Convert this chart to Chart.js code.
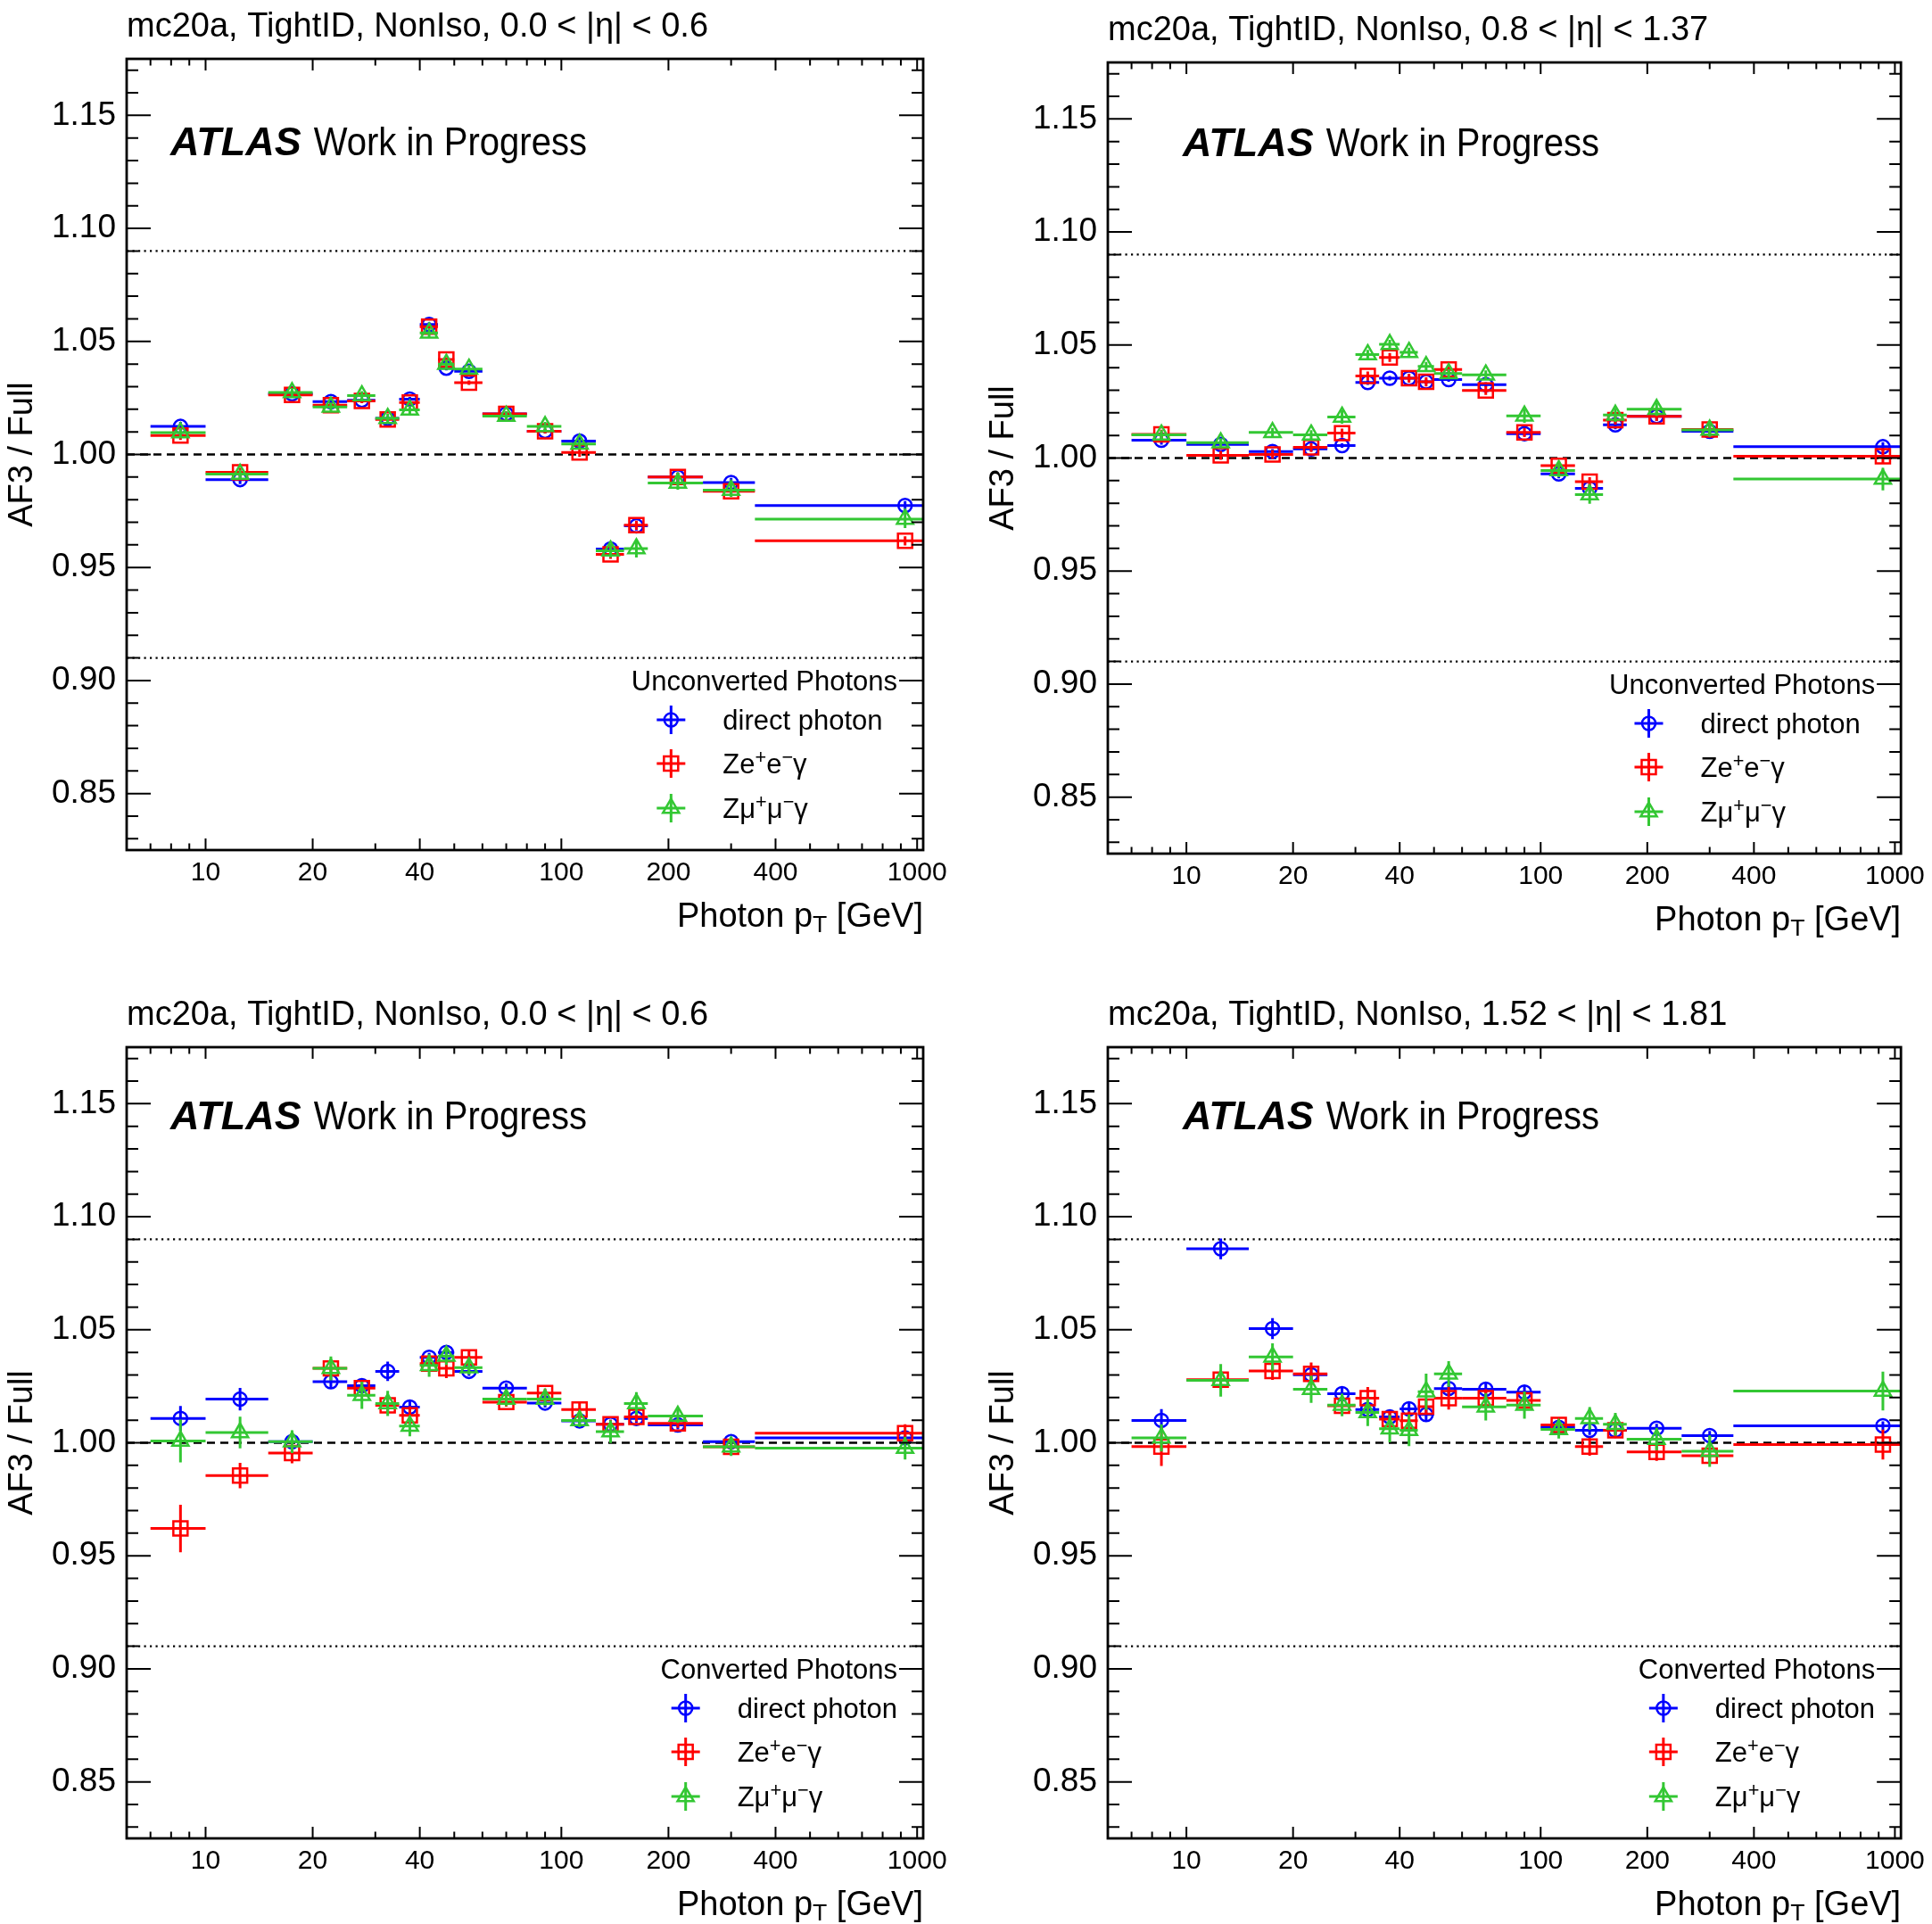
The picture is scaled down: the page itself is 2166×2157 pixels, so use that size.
<!DOCTYPE html>
<html>
<head>
<meta charset="utf-8">
<script src="https://cdn.jsdelivr.net/npm/chart.js@4.4.1/dist/chart.umd.min.js"></script>
<style>
  body { margin: 0; background: #fff; width: 2166px; height: 2157px; position: relative; overflow: hidden; }
  canvas { position: absolute; }
</style>
</head>
<body>
<canvas id="c1" width="1083" height="1078" style="left:0;top:0"></canvas>
<canvas id="c2" width="1066" height="1078" style="left:1100px;top:0"></canvas>
<canvas id="c3" width="1083" height="1057" style="left:0;top:1100px"></canvas>
<canvas id="c4" width="1066" height="1057" style="left:1100px;top:1100px"></canvas>
<script>
// bins in photon pT (GeV), points sit at the bin centre
var binEdges = [7,10,15,20,25,30,35,40,45,50,60,80,100,125,150,175,250,350,1500];
var xTickValues = [10,20,40,100,200,400,1000];
var xMinorTicks = [7,8,9,30,50,60,70,80,90,300,500,600,700,800,900];
var yTickValues = [0.85,0.90,0.95,1.00,1.05,1.10,1.15];
var refLines = [0.91,1.00,1.09];
var seriesLabels = ['direct photon','Ze^+e^−γ','Zμ^+μ^−γ'];

// top left: unconverted, 0.0 < |eta| < 0.6
var tlDirect = [1.0124,0.9889,1.0268,1.0234,1.0240,1.0160,1.0245,1.0575,1.0382,1.0368,1.0180,1.0103,1.0059,0.9582,0.9684,0.9900,0.9876,0.9774];
var tlZee    = [1.0084,0.9921,1.0263,1.0218,1.0237,1.0155,1.0230,1.0565,1.0420,1.0318,1.0180,1.0103,1.0009,0.9558,0.9687,0.9900,0.9837,0.9618];
var tlZmm    = [1.0097,0.9913,1.0274,1.0210,1.0260,1.0160,1.0197,1.0538,1.0400,1.0378,1.0170,1.0124,1.0046,0.9574,0.9584,0.9874,0.9842,0.9714];
var tlDirectErr = [0.002,0.002,0.001,0.001,0.001,0.001,0.001,0.001,0.001,0.001,0.001,0.001,0.002,0.002,0.002,0.002,0.002,0.002];
var tlZeeErr    = [0.002,0.002,0.001,0.001,0.001,0.001,0.001,0.001,0.001,0.001,0.001,0.001,0.002,0.002,0.002,0.002,0.002,0.002];
var tlZmmErr    = [0.002,0.002,0.002,0.002,0.002,0.002,0.002,0.002,0.002,0.002,0.002,0.002,0.002,0.003,0.004,0.003,0.003,0.004];

// top right: unconverted, 0.8 < |eta| < 1.37
var trDirect = [1.0079,1.0060,1.0029,1.0040,1.0055,1.0334,1.0353,1.0353,1.0337,1.0347,1.0325,1.0108,0.9930,0.9866,1.0147,1.0184,1.0118,1.0050];
var trZee    = [1.0105,1.0012,1.0016,1.0047,1.0110,1.0363,1.0445,1.0353,1.0337,1.0392,1.0299,1.0113,0.9966,0.9895,1.0168,1.0184,1.0126,1.0008];
var trZmm    = [1.0103,1.0068,1.0113,1.0103,1.0182,1.0458,1.0503,1.0468,1.0405,1.0374,1.0368,1.0186,0.9945,0.9838,1.0190,1.0216,1.0124,0.9907];
var trDirectErr = [0.002,0.002,0.001,0.001,0.001,0.001,0.001,0.001,0.001,0.001,0.001,0.001,0.002,0.002,0.002,0.002,0.002,0.002];
var trZeeErr    = [0.002,0.002,0.002,0.002,0.002,0.002,0.002,0.002,0.002,0.002,0.002,0.002,0.002,0.002,0.002,0.002,0.002,0.003];
var trZmmErr    = [0.002,0.002,0.002,0.002,0.003,0.002,0.002,0.002,0.002,0.002,0.002,0.003,0.003,0.004,0.003,0.003,0.003,0.005];

// bottom left: converted, 0.0 < |eta| < 0.6
var blDirect = [1.0108,1.0193,1.0005,1.0270,1.0253,1.0316,1.0158,1.0378,1.0400,1.0316,1.0242,1.0176,1.0097,1.0082,1.0108,1.0079,1.0005,1.0022];
var blZee    = [0.9621,0.9855,0.9955,1.0329,1.0242,1.0166,1.0121,1.0350,1.0329,1.0378,1.0180,1.0220,1.0147,1.0082,1.0114,1.0086,0.9982,1.0042];
var blZmm    = [1.0008,1.0045,1.0005,1.0329,1.0210,1.0174,1.0074,1.0342,1.0384,1.0332,1.0193,1.0193,1.0099,1.0049,1.0174,1.0118,0.9982,0.9976];
var blDirectErr = [0.0055,0.005,0.003,0.003,0.002,0.0043,0.003,0.002,0.002,0.002,0.002,0.002,0.002,0.002,0.002,0.002,0.002,0.002];
var blZeeErr    = [0.0105,0.0056,0.0046,0.003,0.002,0.003,0.004,0.003,0.0043,0.003,0.002,0.002,0.003,0.002,0.002,0.002,0.003,0.004];
var blZmmErr    = [0.0095,0.007,0.005,0.0053,0.006,0.0056,0.0045,0.005,0.004,0.003,0.003,0.003,0.003,0.005,0.005,0.003,0.004,0.005];

// bottom right: converted, 1.52 < |eta| < 1.81
var brDirect = [1.0099,1.0858,1.0505,1.0301,1.0217,1.0147,1.0114,1.0150,1.0125,1.0240,1.0237,1.0224,1.0068,1.0055,1.0055,1.0064,1.0032,1.0075];
var brZee    = [0.9983,1.0279,1.0318,1.0305,1.0164,1.0197,1.0105,1.0098,1.0160,1.0197,1.0197,1.0187,1.0079,0.9983,1.0055,0.9960,0.9943,0.9992];
var brZmm    = [1.0022,1.0276,1.0380,1.0237,1.0167,1.0134,1.0062,1.0055,1.0226,1.0305,1.0159,1.0167,1.0059,1.0108,1.0082,1.0016,0.9963,1.0229];
var brDirectErr = [0.005,0.0046,0.0046,0.003,0.003,0.003,0.003,0.003,0.003,0.003,0.003,0.003,0.002,0.002,0.002,0.002,0.002,0.002];
var brZeeErr    = [0.0086,0.004,0.004,0.005,0.003,0.005,0.003,0.004,0.003,0.005,0.004,0.004,0.003,0.004,0.003,0.004,0.003,0.0066];
var brZmmErr    = [0.006,0.0072,0.006,0.006,0.005,0.006,0.006,0.007,0.008,0.0056,0.006,0.006,0.004,0.005,0.005,0.005,0.007,0.0086];

var FONT = "'Liberation Sans', Arial, Helvetica, sans-serif";
var colors = ['#0000ff','#ff0000','#33c733'];
var styles = [
  {pointStyle:'circle', radius:7.5},
  {pointStyle:'rect', radius:11.3},
  {pointStyle:'triangle', radius:10.5}
];

var binCenters = binEdges.slice(0,-1).map(function(lo,i){ return (lo + binEdges[i+1]) / 2; });

// small rich text: ^x superscript, _x subscript
function parseRich(str) {
  var segs = [];
  for (var i = 0; i < str.length; i++) {
    var c = str[i];
    if ((c === '^' || c === '_') && i + 1 < str.length) { segs.push({t: str[i+1], k: c}); i++; }
    else if (segs.length && segs[segs.length-1].k === 'n') segs[segs.length-1].t += c;
    else segs.push({t: c, k: 'n'});
  }
  return segs;
}
function richWidth(ctx, str, size) {
  var w = 0;
  parseRich(str).forEach(function(s){
    ctx.font = (s.k === 'n' ? size : size*0.7) + 'px ' + FONT;
    w += ctx.measureText(s.t).width;
  });
  return w;
}
function drawRich(ctx, str, x, y, size, align) {
  var w = richWidth(ctx, str, size);
  var cx = align === 'right' ? x - w : (align === 'center' ? x - w/2 : x);
  ctx.textAlign = 'left';
  ctx.textBaseline = 'alphabetic';
  parseRich(str).forEach(function(s){
    var sz = s.k === 'n' ? size : size*0.7;
    ctx.font = sz + 'px ' + FONT;
    var dy = s.k === '^' ? -size*0.36 : (s.k === '_' ? size*0.16 : 0);
    ctx.fillText(s.t, cx, y + dy);
    cx += ctx.measureText(s.t).width;
  });
  return w;
}
// text squeezed horizontally by sx
function drawSqueezed(ctx, text, x, y, sx) {
  ctx.save();
  ctx.translate(x, y);
  ctx.scale(sx, 1);
  ctx.fillText(text, 0, 0);
  ctx.restore();
  return ctx.measureText(text).width * sx;
}

function hLine(ctx, area, y, dash, lw) {
  ctx.save();
  ctx.setLineDash(dash);
  ctx.lineWidth = lw;
  ctx.strokeStyle = '#000';
  ctx.beginPath();
  ctx.moveTo(area.left, y);
  ctx.lineTo(area.right, y);
  ctx.stroke();
  ctx.restore();
}

var panelPlugin = {
  id: 'panelDeco',
  beforeDatasetsDraw: function(chart) {
    var ctx = chart.ctx, area = chart.chartArea, ys = chart.scales.y;
    refLines.forEach(function(v){
      if (v === 1) hLine(ctx, area, ys.getPixelForValue(v), [9,6], 2.5);
      else hLine(ctx, area, ys.getPixelForValue(v), [2.2,4.3], 2.2);
    });
  },
  beforeDatasetDraw: function(chart, args) {
    var ds = chart.data.datasets[args.index];
    var ctx = chart.ctx, area = chart.chartArea, xs = chart.scales.x, ys = chart.scales.y;
    ctx.save();
    ctx.beginPath();
    ctx.rect(area.left, area.top, area.width, area.height);
    ctx.clip();
    ctx.strokeStyle = ds.borderColor;
    ctx.lineWidth = 3;
    ds.data.forEach(function(p, i){
      var y = ys.getPixelForValue(p.y);
      ctx.beginPath();
      ctx.moveTo(xs.getPixelForValue(binEdges[i]), y);
      ctx.lineTo(xs.getPixelForValue(binEdges[i+1]), y);
      var x = xs.getPixelForValue(p.x);
      ctx.moveTo(x, ys.getPixelForValue(p.y - ds.errs[i]));
      ctx.lineTo(x, ys.getPixelForValue(p.y + ds.errs[i]));
      ctx.stroke();
    });
    ctx.restore();
  },
  afterDraw: function(chart) {
    var ctx = chart.ctx, a = chart.chartArea, xs = chart.scales.x, ys = chart.scales.y;
    var o = chart.options.plugins.panelDeco;
    ctx.save();
    // frame + inside ticks on all sides
    ctx.strokeStyle = '#000';
    ctx.lineWidth = 2;
    ctx.beginPath();
    yTickValues.forEach(function(v){
      var y = ys.getPixelForValue(v);
      ctx.moveTo(a.left, y); ctx.lineTo(a.left + 27, y);
      ctx.moveTo(a.right, y); ctx.lineTo(a.right - 27, y);
    });
    for (var k = 83; k <= 117; k++) {
      if (k % 5 === 0) continue;
      var y = ys.getPixelForValue(k / 100);
      ctx.moveTo(a.left, y); ctx.lineTo(a.left + 13, y);
      ctx.moveTo(a.right, y); ctx.lineTo(a.right - 13, y);
    }
    xTickValues.forEach(function(v){
      var x = xs.getPixelForValue(v);
      ctx.moveTo(x, a.bottom); ctx.lineTo(x, a.bottom - 13);
      ctx.moveTo(x, a.top); ctx.lineTo(x, a.top + 13);
    });
    xMinorTicks.forEach(function(v){
      var x = xs.getPixelForValue(v);
      ctx.moveTo(x, a.bottom); ctx.lineTo(x, a.bottom - 7.5);
      ctx.moveTo(x, a.top); ctx.lineTo(x, a.top + 7.5);
    });
    ctx.stroke();
    ctx.lineWidth = 2.8;
    ctx.strokeRect(a.left, a.top, a.right - a.left, a.bottom - a.top);

    ctx.fillStyle = '#000';
    // panel title
    ctx.font = '38px ' + FONT;
    ctx.textAlign = 'left';
    ctx.textBaseline = 'alphabetic';
    ctx.fillText(o.title, a.left, a.top - 25);
    // ATLAS label
    ctx.font = 'italic bold 45px ' + FONT;
    var ax = a.left + o.atlasDx, ay = a.top + o.atlasDy;
    ctx.fillText('ATLAS', ax, ay);
    var aw = ctx.measureText('ATLAS').width;
    ctx.font = '44px ' + FONT;
    drawSqueezed(ctx, 'Work in Progress', ax + aw + 14, ay, 0.91);
    // axis titles
    drawRich(ctx, 'Photon p_T [GeV]', a.right, a.bottom + 86, 38, 'right');
    ctx.save();
    ctx.translate(a.left - 106, (a.top + a.bottom) / 2);
    ctx.rotate(-Math.PI / 2);
    ctx.font = '38px ' + FONT;
    ctx.textAlign = 'center';
    ctx.fillText('AF3 / Full', 0, 0);
    ctx.restore();

    // legend
    var fs = 31;
    ctx.font = fs + 'px ' + FONT;
    var titleW = ctx.measureText(o.legendTitle).width;
    var textW = Math.max.apply(null, seriesLabels.map(function(s){ return richWidth(ctx, s, fs); }));
    var blockW = 32 + 42 + textW;
    var boxW = Math.max(titleW, blockW);
    var boxL = a.right - 29 - boxW;
    ctx.font = fs + 'px ' + FONT;
    ctx.textAlign = 'left';
    ctx.fillText(o.legendTitle, boxL + (boxW - titleW) / 2, a.bottom - 179);
    var ex = boxL + (boxW - blockW) / 2 + 6;
    var rows = [146, 97, 47];
    chart.data.datasets.forEach(function(ds, i){
      var cy = a.bottom - rows[i];
      var hx = ex + 16;
      ctx.strokeStyle = ds.borderColor;
      ctx.lineWidth = 3;
      ctx.beginPath();
      ctx.moveTo(hx - 16, cy); ctx.lineTo(hx + 16, cy);
      ctx.moveTo(hx, cy - 16); ctx.lineTo(hx, cy + 16);
      ctx.stroke();
      ctx.lineWidth = 2.5;
      ctx.fillStyle = 'rgba(0,0,0,0)';
      Chart.helpers.drawPoint(ctx, {pointStyle: ds.pointStyle, radius: ds.pointRadius, rotation: 0, borderWidth: 2.5}, hx, cy);
      ctx.fillStyle = '#000';
      drawRich(ctx, seriesLabels[i], ex + 74, cy + 11, fs, 'left');
    });
    ctx.restore();
  }
};

function makePanel(id, title, legendTitle, values, errs, pad, xAxisH, atlasDx, atlasDy) {
  var order = [2, 1, 0]; // blue under red under green
  var datasets = values.map(function(vals, s){
    return {
      label: seriesLabels[s],
      data: binCenters.map(function(x, i){ return {x: x, y: vals[i]}; }),
      errs: errs[s],
      pointStyle: styles[s].pointStyle,
      pointRadius: styles[s].radius,
      pointHoverRadius: styles[s].radius,
      borderColor: colors[s],
      backgroundColor: 'rgba(0,0,0,0)',
      borderWidth: 2.5,
      showLine: false,
      order: order[s]
    };
  });
  return new Chart(document.getElementById(id), {
    type: 'scatter',
    data: { datasets: datasets },
    options: {
      responsive: false,
      animation: false,
      events: [],
      layout: { padding: { left: 0, top: pad.top, right: pad.right, bottom: 0 } },
      plugins: {
        legend: { display: false },
        tooltip: { enabled: false },
        panelDeco: { title: title, legendTitle: legendTitle, atlasDx: atlasDx, atlasDy: atlasDy }
      },
      scales: {
        x: {
          type: 'logarithmic',
          min: 6, max: 1040,
          bounds: 'data',
          grid: { display: false, drawTicks: false },
          border: { display: false },
          afterBuildTicks: function(s){ s.ticks = xTickValues.map(function(v){ return {value: v}; }); },
          afterFit: function(s){ s.height = xAxisH; },
          ticks: {
            autoSkip: false, maxRotation: 0, minRotation: 0, padding: 8, color: '#000',
            font: { family: FONT, size: 30 },
            callback: function(v){ return String(v); }
          }
        },
        y: {
          min: 0.825, max: 1.175,
          grid: { display: false, drawTicks: false },
          border: { display: false },
          afterBuildTicks: function(s){ s.ticks = yTickValues.map(function(v){ return {value: v}; }); },
          afterFit: function(s){ s.width = 142; },
          ticks: {
            padding: 12, color: '#000',
            font: { family: FONT, size: 37 },
            callback: function(v){ return v.toFixed(2); }
          }
        }
      }
    },
    plugins: [panelPlugin]
  });
}

makePanel('c1', 'mc20a, TightID, NonIso, 0.0 < |η| < 0.6', 'Unconverted Photons',
  [tlDirect, tlZee, tlZmm], [tlDirectErr, tlZeeErr, tlZmmErr], {top: 66, right: 48}, 125, 49, 108);
makePanel('c2', 'mc20a, TightID, NonIso, 0.8 < |η| < 1.37', 'Unconverted Photons',
  [trDirect, trZee, trZmm], [trDirectErr, trZeeErr, trZmmErr], {top: 70, right: 30}, 121, 84, 105);
makePanel('c3', 'mc20a, TightID, NonIso, 0.0 < |η| < 0.6', 'Converted Photons',
  [blDirect, blZee, blZmm], [blDirectErr, blZeeErr, blZmmErr], {top: 74, right: 48}, 96, 49, 92);
makePanel('c4', 'mc20a, TightID, NonIso, 1.52 < |η| < 1.81', 'Converted Photons',
  [brDirect, brZee, brZmm], [brDirectErr, brZeeErr, brZmmErr], {top: 74, right: 30}, 96, 84, 92);
</script>
</body>
</html>
